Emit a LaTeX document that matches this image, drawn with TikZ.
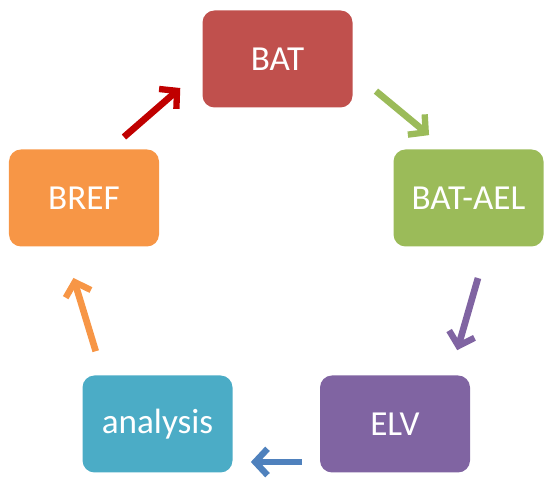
\documentclass[tikz,border=0pt]{standalone}
\usepackage{fontspec}
\setmainfont{Carlito}
\usepackage{tikz}
\usetikzlibrary{arrows.meta, positioning}

\definecolor{batred}{HTML}{C0504D}
\definecolor{aelgreen}{HTML}{9BBB59}
\definecolor{elvpurple}{HTML}{8064A2}
\definecolor{anablue}{HTML}{4BACC6}
\definecolor{breforange}{HTML}{F79646}
\definecolor{arrowred}{HTML}{C00000}
\definecolor{arrowblue}{HTML}{4F81BD}

\begin{document}
\begin{tikzpicture}[
    step box/.style={rectangle, rounded corners=0.24cm, minimum width=3cm, minimum height=1.94cm,
        text=white, font=\fontsize{20}{24}\selectfont},
    cycle arrow/.style={line width=3.8pt, -{Straight Barb[length=7pt, width=15pt, line width=3.6pt]}},
]
    \useasboundingbox (0,0) rectangle (10.94,9.62);

    % Boxes
    \node[step box, fill=batred] (bat) at (5.55, 8.44) {BAT};
    \node[step box, fill=aelgreen] (batael) at (9.37, 5.66) {BAT-AEL};
    \node[step box, fill=elvpurple] (elv) at (7.90, 1.14) {ELV};
    \node[step box, fill=anablue] (analysis) at (3.15, 1.14) {analysis};
    \node[step box, fill=breforange] (bref) at (1.68, 5.66) {BREF};

    % Cycle arrows
    \draw[cycle arrow, arrowred, shorten <=0.37cm, shorten >=0.58cm]
        ([xshift=0.52cm]bref.north) -- ([yshift=-0.2cm]bat.west);
    \draw[cycle arrow, aelgreen, shorten <=0.6cm, shorten >=0.44cm]
        ([yshift=-0.26cm]bat.east) -- ([xshift=-0.45cm]batael.north);
    \draw[cycle arrow, elvpurple, shorten <=0.65cm, shorten >=0.52cm]
        ([xshift=0.37cm]batael.south) -- ([xshift=1.1cm]elv.north);
    \draw[cycle arrow, arrowblue, shorten <=0.36cm, shorten >=0.36cm]
        ([yshift=-0.76cm]elv.west) -- ([yshift=-0.76cm]analysis.east);
    \draw[cycle arrow, breforange, shorten <=0.5cm, shorten >=0.65cm]
        ([xshift=-1.09cm]analysis.north) -- ([xshift=-0.4cm]bref.south);
\end{tikzpicture}
\end{document}
